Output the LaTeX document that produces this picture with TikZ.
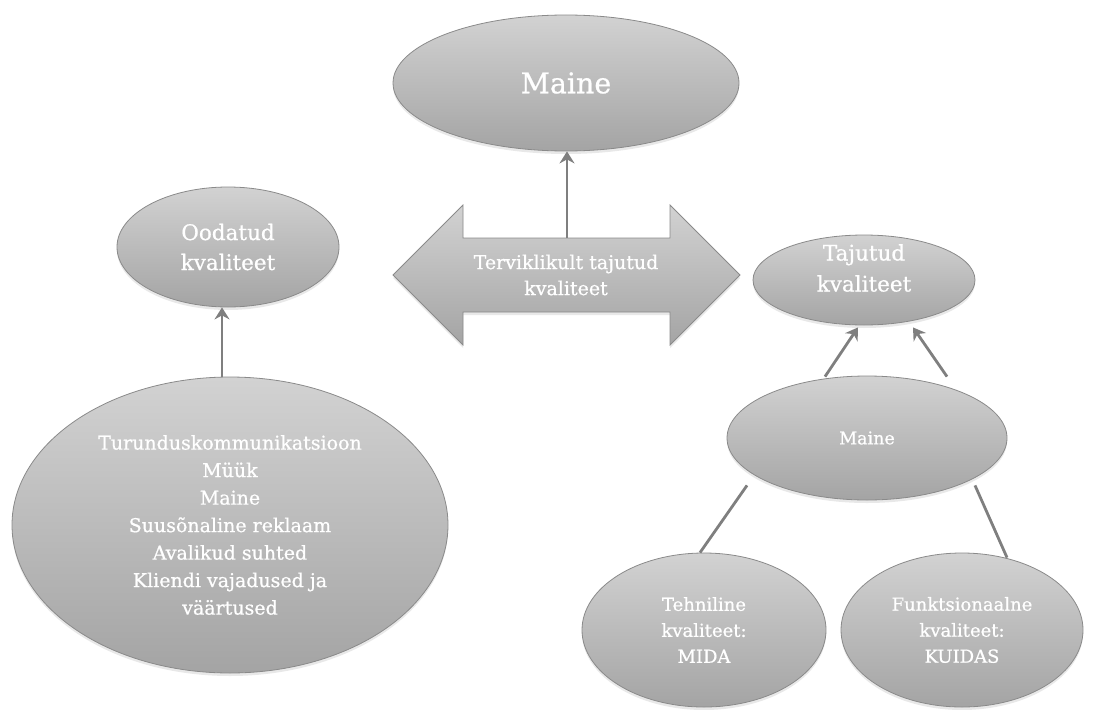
\documentclass[tikz,border=0pt]{standalone}
\usepackage{fontspec}
\setmainfont{DejaVu Serif}[FakeBold=0.7]
\usetikzlibrary{shapes.geometric,arrows.meta,calc,shadows}
\definecolor{edgegray}{HTML}{8A8A8A}
\definecolor{linkgray}{HTML}{7F7F7F}
\definecolor{shtop}{HTML}{D2D2D2}
\definecolor{shbot}{HTML}{A4A4A4}
\tikzset{
  oval/.style={ellipse, draw=edgegray, line width=0.8pt, top color=shtop, bottom color=shbot,
    inner sep=0pt, text=white, align=center,
    drop shadow={shadow xshift=0pt, shadow yshift=-3pt, opacity=0.18}},
  lbl/.style={text=white, align=center, inner sep=0pt},
  link/.style={draw=linkgray, line width=2.8pt},
  arr/.style={link, -{Stealth[length=12pt,width=15pt,inset=4pt]}},
}
\newcommand{\fs}[2]{\fontsize{#1}{#2}\selectfont}
\begin{document}
\begin{tikzpicture}[x=1pt,y=-1pt]
\useasboundingbox (0,0) rectangle (1115,709);

% double arrow
\path[draw=edgegray, line width=0.8pt, top color=shtop, bottom color=shbot,
      drop shadow={shadow xshift=0pt, shadow yshift=-3pt, opacity=0.18}]
  (393,275) -- (463,205) -- (463,238) -- (670,238) -- (670,205) -- (740,275)
  -- (670,345) -- (670,312) -- (463,312) -- (463,345) -- cycle;
\coordinate (dtop) at (567,238);
\node[lbl, font=\fs{19}{26}] (total) at (566,275) {Terviklikult tajutud\\kvaliteet};

\node[oval, minimum width=346pt, minimum height=136pt, font=\fs{28.5}{34}] (maine) at (566,83) {Maine};
\node[oval, minimum width=222pt, minimum height=120pt, font=\fs{21.5}{30}] (oodatud) at (228,247) {Oodatud\\kvaliteet};
\node[oval, minimum width=436pt, minimum height=296pt, font=\fs{19}{27.5}] (big) at (230,525)
  {Turunduskommunikatsioon\\Müük\\Maine\\Suusõnaline reklaam\\Avalikud suhted\\Kliendi vajadused ja\\väärtused};
\node[oval, minimum width=222pt, minimum height=90pt] (tajutud) at (864,280) {};
\node[lbl, font=\fs{21.5}{31}] (tajututxt) at (864,268) {Tajutud\\kvaliteet};
\node[oval, minimum width=280pt, minimum height=124pt, font=\fs{17.5}{24}] (maine2) at (867,438) {Maine};
\node[oval, minimum width=244pt, minimum height=154pt, font=\fs{18}{26}] (tehn) at (704,630) {Tehniline\\kvaliteet:\\MIDA};
\node[oval, minimum width=242pt, minimum height=154pt, font=\fs{18}{26}] (funk) at (962,630) {Funktsionaalne\\kvaliteet:\\KUIDAS};

% connectors
\draw[arr] (dtop) -- (maine.south -| dtop);
\draw[arr] ($(big.north)+(-8,0)$) -- ($(oodatud.south)+(-6,0)$);
\draw[arr] ($(maine2.north)+(-42,1)$) -- ($(tajutud.south)+(-6,2)$);
\draw[arr] ($(maine2.north)+(80,1)$) -- ($(tajutud.south)+(49,2)$);
\draw[link] ($(maine2.south)+(-120,-15)$) -- ($(tehn.north)+(-4,0)$);
\draw[link] ($(maine2.south)+(108,-15)$) -- ($(funk.north)+(45,5)$);
\end{tikzpicture}
\end{document}
